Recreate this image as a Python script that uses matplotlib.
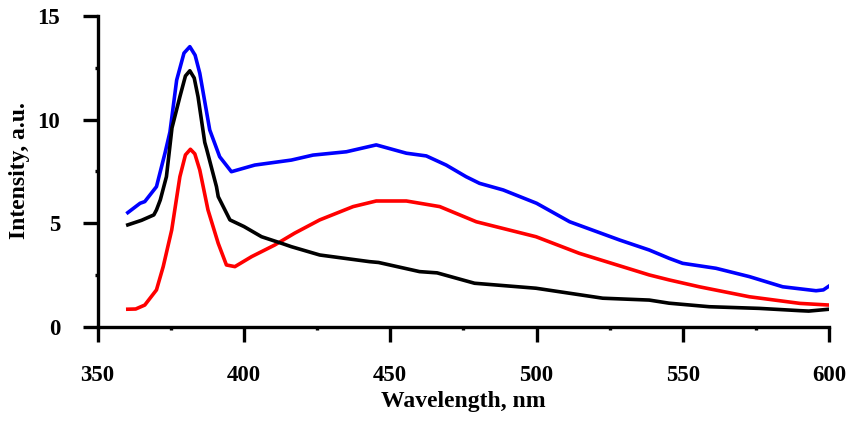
import matplotlib
matplotlib.use("Agg")
import matplotlib.pyplot as plt
from matplotlib.ticker import MultipleLocator

plt.rcParams['font.family'] = ['Liberation Serif', 'DejaVu Serif']
plt.rcParams['font.weight'] = 'bold'

# Black curve
black_x = [360.3, 365.0, 369.2, 370.1, 371.4, 373.5, 375.4, 378.1, 380.0, 381.5, 383.0, 384.3, 386.6, 387.2, 390.6,
           391.2, 395.2, 400.0, 406.0, 412.9, 416.2, 425.9, 442.9, 446.0, 460.0, 466.0, 478.8,
           499.8, 522.6, 538.5, 545.3, 559.0, 576.1, 590.0, 593.0, 600.0]
black_y = [4.93, 5.15, 5.41, 5.65, 6.13, 7.25, 9.60, 11.1, 12.1, 12.35, 12.0, 11.1, 8.9, 8.6, 6.77,
           6.29, 5.17, 4.85, 4.36, 4.04, 3.88, 3.48, 3.16, 3.12, 2.68, 2.62, 2.12,
           1.88, 1.40, 1.31, 1.16, 0.99, 0.91, 0.80, 0.78, 0.87]

# Red curve
red_x = [360.3, 363.0, 366.1, 370.1, 372.4, 375.3, 378.1, 380.0, 381.7, 383.2, 384.9, 387.7, 391.2,
         394.0, 396.9, 402.6, 410.5, 417.3, 425.9, 437.3, 445.2, 455.5, 466.9, 479.4,
         499.8, 514.6, 538.5, 545.3, 555.6, 572.7, 590.0, 600.0]
red_y = [0.87, 0.88, 1.07, 1.80, 2.92, 4.68, 7.25, 8.30, 8.57, 8.35, 7.57, 5.65, 4.04,
         3.00, 2.92, 3.40, 3.96, 4.53, 5.17, 5.81, 6.08, 6.08, 5.81, 5.08,
         4.36, 3.56, 2.52, 2.28, 1.95, 1.47, 1.15, 1.07]

# Blue curve
blue_x = [360.3, 364.5, 366.1, 370.1, 373.0, 374.7, 377.0, 379.5, 381.5, 383.3, 384.9, 388.3, 391.7,
          395.7, 403.7, 416.2, 423.6, 435.0, 445.2, 455.5, 462.3, 469.1, 475.9, 480.5,
          488.6, 500.0, 511.3, 528.4, 538.5, 545.3, 549.9, 561.3, 572.7, 584.1, 595.5, 598.0, 600.0]
blue_y = [5.52, 5.97, 6.05, 6.77, 8.38, 9.40, 11.9, 13.2, 13.51, 13.1, 12.23, 9.5, 8.21,
          7.49, 7.81, 8.05, 8.29, 8.45, 8.78, 8.38, 8.25, 7.81, 7.25, 6.93,
          6.61, 5.97, 5.08, 4.20, 3.72, 3.32, 3.08, 2.84, 2.44, 1.95, 1.76, 1.80, 1.99]

x_ticks = [350, 400, 450, 500, 550, 600]
y_ticks = [0, 5, 10, 15]

fig = plt.figure(figsize=(8.47, 4.21), dpi=100)
ax = fig.add_axes([0.1153, 0.2226, 0.979 - 0.1153, 0.9627 - 0.2226])

lw = 2.6
ax.plot(blue_x, blue_y, color='#0000ff', lw=lw, solid_joinstyle='round')
ax.plot(red_x, red_y, color='#ff0000', lw=lw, solid_joinstyle='round')
ax.plot(black_x, black_y, color='black', lw=lw, solid_joinstyle='round')

ax.set_xlim(350, 600)
ax.set_ylim(0, 15)
ax.set_xticks(x_ticks)
ax.set_yticks(y_ticks)
ax.xaxis.set_minor_locator(MultipleLocator(25))
ax.yaxis.set_minor_locator(MultipleLocator(2.5))

for s in ['top', 'right']:
    ax.spines[s].set_visible(False)
for s in ['left', 'bottom']:
    ax.spines[s].set_linewidth(2.4)

ax.tick_params(which='major', direction='out', length=11, width=2.4, labelsize=16.5, pad=16)
ax.tick_params(which='minor', direction='out', length=2.5, width=2.4)
for lab in ax.get_xticklabels() + ax.get_yticklabels():
    lab.set_fontweight('bold')

ax.set_xlabel('Wavelength, nm', fontsize=17, fontweight='bold')
ax.set_ylabel('Intensity, a.u.', fontsize=17, fontweight='bold')
ax.xaxis.set_label_coords(0.5, -0.205)
ax.yaxis.set_label_coords(-0.093, 0.503)

fig.savefig('out.png', dpi=100)
